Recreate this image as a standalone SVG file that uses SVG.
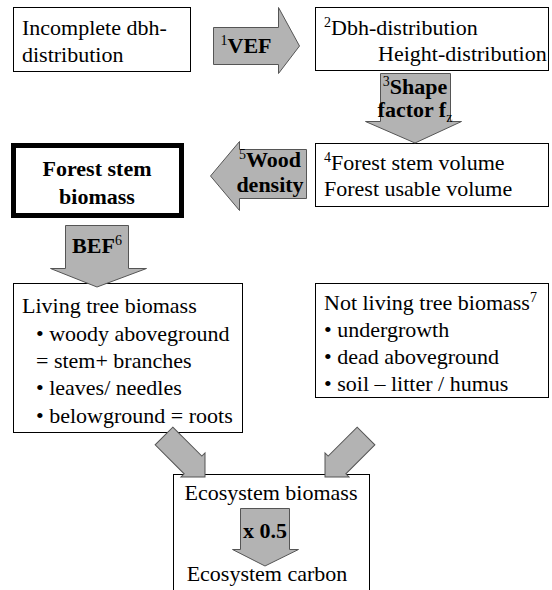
<svg xmlns="http://www.w3.org/2000/svg" width="552" height="590" viewBox="0 0 552 590" font-family="'Liberation Serif', 'Times New Roman', Tinos, 'DejaVu Serif', serif" font-size="22">
<style>
.box{fill:#fff;stroke:#000;stroke-width:1}
.thick{fill:#fff;stroke:#000;stroke-width:5}
.arr{fill:#b3b3b3;stroke:#555;stroke-width:1}
text{font-family:'Liberation Serif','Times New Roman',Tinos,'DejaVu Serif',serif;font-size:22px;fill:#000}
.b{font-weight:bold}
.sup{font-size:14px;font-weight:normal}
</style>
<rect width="552" height="590" fill="#fff"/>
<g id="n1"><rect class="box" x="13.5" y="7.5" width="177" height="64"/>
<text x="22" y="35">Incomplete dbh-</text><text x="22" y="62">distribution</text></g>
<g id="n2"><rect class="box" x="315.5" y="7.5" width="233" height="63"/>
<text x="324" y="35"><tspan class="sup" dy="-8">2</tspan><tspan dy="8">Dbh-distribution</tspan></text><text x="378" y="61">Height-distribution</text></g>
<g id="n4"><rect class="box" x="315.5" y="143.5" width="233" height="63"/>
<text x="324" y="170"><tspan class="sup" dy="-8">4</tspan><tspan dy="8">Forest stem volume</tspan></text><text x="324" y="196">Forest usable volume</text></g>
<g id="n5"><rect class="thick" x="13.5" y="145.5" width="168" height="70"/>
<text class="b" x="97" y="176" text-anchor="middle">Forest stem</text><text class="b" x="97" y="204" text-anchor="middle">biomass</text></g>
<g id="n6"><rect class="box" x="13.5" y="283.5" width="229" height="149"/>
<text x="22" y="313">Living tree biomass</text>
<text x="36" y="341">• woody aboveground</text>
<text x="36" y="368">= stem+ branches</text>
<text x="36" y="395">• leaves/ needles</text>
<text x="36" y="423">• belowground = roots</text></g>
<g id="n7"><rect class="box" x="315.5" y="283.5" width="233" height="114"/>
<text x="324" y="310">Not living tree biomass<tspan class="sup" dy="-8">7</tspan></text>
<text x="324" y="337">• undergrowth</text>
<text x="324" y="364">• dead aboveground</text>
<text x="324" y="391">• soil – litter / humus</text></g>
<g id="n8"><rect class="box" x="173.5" y="474.5" width="196" height="130"/>
<text x="271" y="500" text-anchor="middle">Ecosystem biomass</text>
<text x="267" y="581" text-anchor="middle">Ecosystem carbon</text></g>
<g id="connectors">
<g id="a1"><polygon class="arr" points="213.5,27.5 278.5,27.5 278.5,7.5 299.5,46 278.5,73.5 278.5,64.5 213.5,64.5"/>
<text class="b" x="246" y="53" text-anchor="middle"><tspan class="sup" dy="-8">1</tspan><tspan dy="8">VEF</tspan></text></g>
<g id="a3"><polygon class="arr" points="380.5,73.5 450.5,73.5 450.5,121.5 461.5,121.5 415,143 365.5,121.5 380.5,121.5"/>
<text class="b" x="415" y="94" text-anchor="middle"><tspan class="sup" dy="-8">3</tspan><tspan dy="8">Shape</tspan></text>
<text class="b" x="415" y="117" text-anchor="middle">factor f<tspan class="sup" dy="5">z</tspan></text></g>
<g id="a5"><polygon class="arr" points="306.5,149.5 239.5,149.5 239.5,141.5 210.5,176 239.5,210.5 239.5,198.5 306.5,198.5"/>
<text class="b" x="270" y="167" text-anchor="middle"><tspan class="sup" dy="-8">5</tspan><tspan dy="8">Wood</tspan></text>
<text class="b" x="270" y="192" text-anchor="middle">density</text></g>
<g id="a6"><polygon class="arr" points="65.5,225.5 128.5,225.5 128.5,268.5 146.5,268.5 97,287 50.5,268.5 65.5,268.5"/>
<text class="b" x="97" y="253" text-anchor="middle">BEF<tspan class="sup" dy="-8">6</tspan></text></g>
<g id="a7" transform="translate(205,477) rotate(45)"><polygon class="arr" points="-58,-12.5 -17,-12.5 -17,-17 0,0 -17,17 -17,12.5 -58,12.5"/></g>
<g id="a8" transform="translate(325,477) rotate(135)"><polygon class="arr" points="-58,-12.5 -17,-12.5 -17,-17 0,0 -17,17 -17,12.5 -58,12.5"/></g>
<g id="a9"><polygon class="arr" points="240.5,508.5 289.5,508.5 289.5,549.5 298.5,549.5 265,566 232.5,549.5 240.5,549.5"/>
<text class="b" x="265" y="538" text-anchor="middle">x 0.5</text></g>
</g>
</svg>
